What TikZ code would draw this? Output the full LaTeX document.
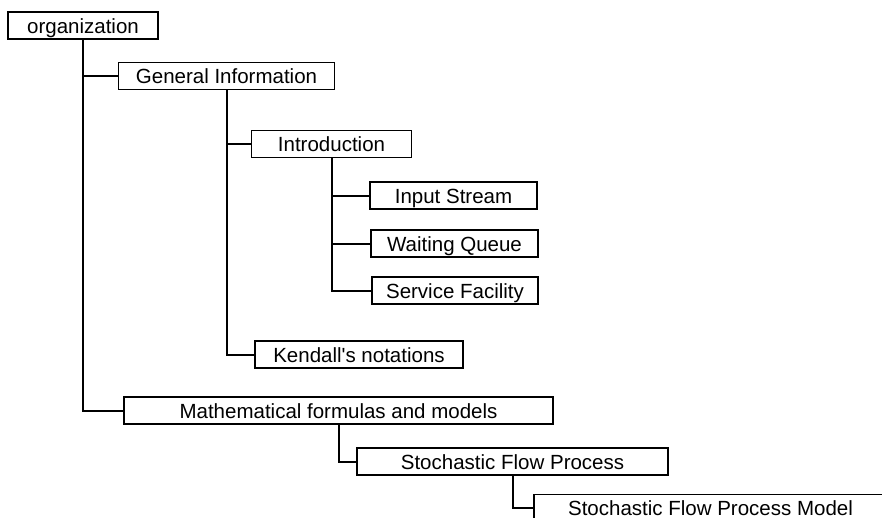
\documentclass[tikz,border=0pt]{standalone}
\usepackage{fontspec}
\setmainfont{Liberation Sans}
\begin{document}
\begin{tikzpicture}[x=1pt, y=-1pt,
  box/.style={draw, line width=1.8pt, rectangle, inner sep=0pt,
    minimum height=27pt, text height=15pt, text depth=0pt,
    font=\fontsize{20.5}{24}\selectfont},
  link/.style={line width=2pt, line join=miter}]
  \clip (0,0) rectangle (882,517);

  % outline nodes
  \node[box, minimum width=150pt] (org)     at (83,25.5)    {organization};
  \node[box, minimum width=216pt] (gi)      at (226.5,76)   {General Information};
  \node[box, minimum width=160pt] (intro)   at (331.5,144)  {Introduction};
  \node[box, minimum width=167pt] (input)   at (453.5,195.5){Input Stream};
  \node[box, minimum width=167pt] (wait)    at (454.5,243.5){Waiting Queue};
  \node[box, minimum width=166pt] (service) at (455,290.5)  {Service Facility};
  \node[box, minimum width=208pt] (kendall) at (359,354.5)  {Kendall\textquotesingle s notations};
  \node[box, minimum width=429pt] (math)    at (338.5,410.5){Mathematical formulas and models};
  \node[box, minimum width=311pt] (sfp)     at (512.5,461.5){Stochastic Flow Process};
  \node[box, minimum width=353pt] (sfpm)    at (710.5,508)  {Stochastic Flow Process Model};

  % tree connectors
  \draw[link] (org.south) |- (gi.west);
  \draw[link] (org.south) |- (math.west);
  \draw[link] (gi.south) |- (intro.west);
  \draw[link] (gi.south) |- (kendall.west);
  \draw[link] (intro.south) |- (input.west);
  \draw[link] (intro.south) |- (wait.west);
  \draw[link] (intro.south) |- (service.west);
  \draw[link] (math.south) |- (sfp.west);
  \draw[link] (sfp.south) |- (sfpm.west);
\end{tikzpicture}
\end{document}
